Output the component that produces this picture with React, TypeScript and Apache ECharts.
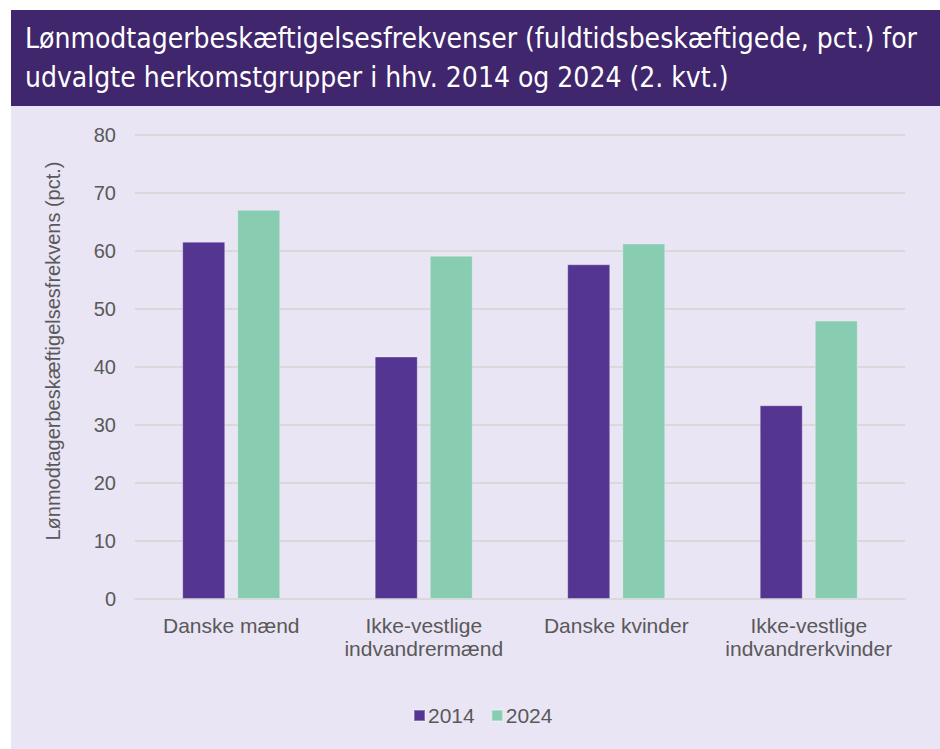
import React, { useEffect, useRef } from "react";
import * as echarts from "echarts";

const categories = [
  "Danske mænd",
  "Ikke-vestlige\nindvandrermænd",
  "Danske kvinder",
  "Ikke-vestlige\nindvandrerkvinder",
];
const values2014 = [61.6, 41.8, 57.7, 33.4];
const values2024 = [67.1, 59.2, 61.3, 48.0];
const yTicks = { min: 0, max: 80, interval: 10 };
const titleLines = [
  "Lønmodtagerbeskæftigelsesfrekvenser (fuldtidsbeskæftigede, pct.) for",
  "udvalgte herkomstgrupper i hhv. 2014 og 2024 (2. kvt.)",
];
const yAxisName = "Lønmodtagerbeskæftigelsesfrekvens (pct.)";

export default function App() {
  const ref = useRef<HTMLDivElement>(null);
  useEffect(() => {
    if (!ref.current) return;
    const chart = echarts.init(ref.current, undefined, { renderer: "svg" });
    const textColor = "#595959";
    const font = "'Liberation Sans', Arial, sans-serif";
    const titleFont = "28px 'DejaVu Sans Condensed', 'Open Sans', sans-serif";
    chart.setOption({
      animation: false,
      backgroundColor: "#ffffff",
      graphic: [
        {
          type: "rect",
          shape: { x: 11, y: 10, width: 929, height: 96 },
          style: { fill: "#40266C" },
          z: -10,
          silent: true,
        },
        {
          type: "rect",
          shape: { x: 11, y: 106, width: 929, height: 643 },
          style: { fill: "#E9E5F5" },
          z: -10,
          silent: true,
        },
        {
          type: "text",
          x: 25,
          y: 38,
          style: {
            text: titleLines[0],
            fill: "#ffffff",
            font: titleFont,
            verticalAlign: "middle",
            align: "left",
          },
        },
        {
          type: "text",
          x: 25,
          y: 77,
          style: {
            text: titleLines[1],
            fill: "#ffffff",
            font: titleFont,
            verticalAlign: "middle",
            align: "left",
          },
        },
        {
          type: "text",
          x: 53,
          y: 351,
          rotation: Math.PI / 2,
          style: {
            text: yAxisName,
            fill: textColor,
            fontSize: 20,
            fontFamily: font,
            align: "center",
            verticalAlign: "middle",
          },
        },
      ],
      grid: { left: 135, right: 35, top: 135, bottom: 150, containLabel: false },
      legend: {
        data: ["2014", "2024"],
        left: 408,
        top: 700,
        icon: "rect",
        itemWidth: 11,
        itemHeight: 11,
        itemGap: 16,
        textStyle: { color: textColor, fontSize: 21, fontFamily: font, padding: [0, 0, 0, -2] },
      },
      xAxis: {
        type: "category",
        data: categories,
        axisLine: { show: true, lineStyle: { color: "#D9D9D9", width: 2 } },
        axisTick: { show: false },
        axisLabel: {
          color: textColor,
          fontSize: 21,
          fontFamily: font,
          lineHeight: 23,
          margin: 15,
          interval: 0,
        },
      },
      yAxis: {
        type: "value",
        min: yTicks.min,
        max: yTicks.max,
        interval: yTicks.interval,
        axisLine: { show: false },
        axisTick: { show: false },
        axisLabel: { color: textColor, fontSize: 20, fontFamily: font, margin: 19 },
        splitLine: { lineStyle: { color: "#D9D9D9", width: 2 } },
      },
      series: [
        {
          name: "2014",
          type: "bar",
          data: values2014,
          barWidth: 43,
          barGap: "28%",
          itemStyle: { color: "#553592", borderColor: "rgba(255,255,255,0.3)", borderWidth: 1 },
        },
        {
          name: "2024",
          type: "bar",
          data: values2024,
          barWidth: 43,
          barGap: "28%",
          itemStyle: { color: "#88CDB1", borderColor: "rgba(255,255,255,0.3)", borderWidth: 1 },
        },
      ],
    });
    return () => chart.dispose();
  }, []);
  return (
    <div
      ref={ref}
      style={{ position: "fixed", left: 0, top: 0, width: 940, height: 749 }}
    />
  );
}
